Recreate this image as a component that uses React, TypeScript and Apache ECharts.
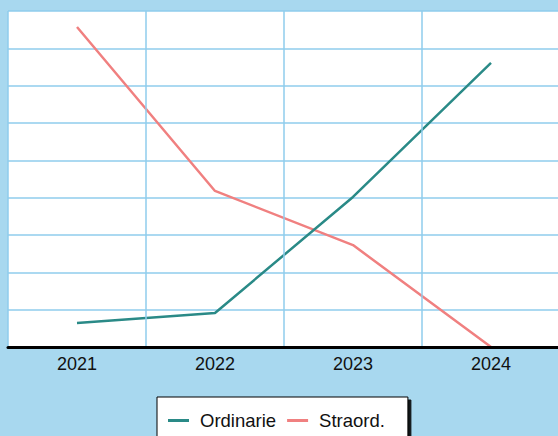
import React, { useEffect, useRef } from "react";
import * as echarts from "echarts";

const categories = ["2021", "2022", "2023", "2024"];
const ordinarie = [0.64, 0.91, 4.02, 7.61];
const straord = [8.57, 4.18, 2.73, 0];
const seriesNames = ["Ordinarie", "Straord."];

export default function App() {
  const ref = useRef<HTMLDivElement>(null);
  useEffect(() => {
    if (!ref.current) return;
    const chart = echarts.init(ref.current, undefined, { renderer: "svg" });
    chart.setOption({
      animation: false,
      backgroundColor: "#a8d8ef",
      textStyle: { fontFamily: "Liberation Sans, Arial, sans-serif" },
      grid: {
        left: 8,
        top: 11,
        width: 552,
        bottom: 89,
        outerBoundsMode: "none",
        containLabel: false,
        show: true,
        backgroundColor: "#ffffff",
        borderWidth: 0,
      },
      xAxis: {
        type: "category",
        data: categories,
        boundaryGap: true,
        axisLine: { show: true, lineStyle: { color: "#000", width: 3 } },
        axisTick: { show: false },
        axisLabel: { color: "#111", fontSize: 18, margin: 8 },
        splitLine: { show: true, lineStyle: { color: "#8fcdec", width: 1.5 } },
        z: 5,
      },
      yAxis: {
        type: "value",
        min: 0,
        max: 9,
        interval: 1,
        axisLine: { show: false },
        axisTick: { show: false },
        axisLabel: { show: false },
        splitLine: { show: true, lineStyle: { color: "#8fcdec", width: 1.5 } },
      },
      legend: {
        data: seriesNames,
        top: 397,
        left: 157,
        padding: [14, 23, 40, 11],
        backgroundColor: "#ffffff",
        borderColor: "#000",
        borderWidth: 1,
        shadowColor: "rgba(0,0,0,0.9)",
        shadowBlur: 0,
        shadowOffsetX: 3,
        shadowOffsetY: 3,
        icon: "rect",
        itemWidth: 21,
        itemHeight: 3,
        itemGap: 11,
        textStyle: { color: "#111", fontSize: 18.5, padding: [0, 0, 0, 6] },
      },
      series: [
        {
          name: seriesNames[0],
          type: "line",
          data: ordinarie,
          showSymbol: false,
          symbol: "none",
          lineStyle: { color: "#2a8a87", width: 2.5 },
          itemStyle: { color: "#2a8a87" },
          z: 3,
        },
        {
          name: seriesNames[1],
          type: "line",
          data: straord,
          showSymbol: false,
          symbol: "none",
          lineStyle: { color: "#f08080", width: 2.5 },
          itemStyle: { color: "#f08080" },
          z: 2,
        },
      ],
    });
    return () => chart.dispose();
  }, []);
  return (
    <div
      ref={ref}
      style={{ position: "fixed", left: 0, top: 0, width: 558, height: 436 }}
    />
  );
}
